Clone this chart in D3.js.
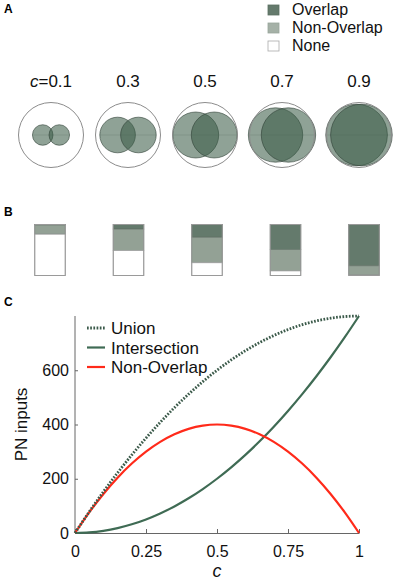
<!DOCTYPE html>
<html>
<head>
<meta charset="utf-8">
<script src="https://cdn.jsdelivr.net/npm/d3@7"></script>
<style>
  body { margin: 0; background: #fff; }
  svg { display: block; font-family: "Liberation Sans", Arial, sans-serif; }
</style>
</head>
<body>
<div id="chart"></div>
<script>
'use strict';

// panel A / B : correlation levels
const c_levels = [0.1, 0.3, 0.5, 0.7, 0.9]
const overlap_frac = [0.01, 0.09, 0.25, 0.49, 0.81]
const nonoverlap_frac = [0.18, 0.42, 0.50, 0.42, 0.18]
const legend_names = ['Overlap', 'Non-Overlap', 'None']

// panel C : PN inputs vs c
const c_values = [0, 0.05, 0.1, 0.15, 0.2, 0.25, 0.3, 0.35, 0.4, 0.45, 0.5,
  0.55, 0.6, 0.65, 0.7, 0.75, 0.8, 0.85, 0.9, 0.95, 1]
const union_vals = [0, 78, 152, 222, 288, 350, 408, 462, 512, 558, 600,
  638, 672, 702, 728, 750, 768, 782, 792, 798, 800]
const intersection_vals = [0, 2, 8, 18, 32, 50, 72, 98, 128, 162, 200,
  242, 288, 338, 392, 450, 512, 578, 648, 722, 800]
const nonoverlap_vals = [0, 76, 144, 204, 256, 300, 336, 364, 384, 396, 400,
  396, 384, 364, 336, 300, 256, 204, 144, 76, 0]
const x_ticks = [0, 0.25, 0.5, 0.75, 1]
const y_ticks = [0, 200, 400, 600]

const col_overlap = '#647a6c'
const col_nonover = '#93a195'
const col_legend_nonover = '#a5b1a7'
const col_inter = '#3f6b54'
const col_union = '#3b5a4a'
const col_red = '#ff2a1a'

const W = 397, H = 582
const svg = d3.select('#chart').append('svg')
  .attr('width', W).attr('height', H)

// panel letters
const letters = [['A', 13], ['B', 216], ['C', 306]]
svg.selectAll('.letter').data(letters).join('text')
  .attr('class', 'letter')
  .attr('x', 4).attr('y', d => d[1])
  .style('font-weight', 'bold').style('font-size', '12px')
  .text(d => d[0])

// top legend
const legend_fills = [col_overlap, col_legend_nonover, '#fff']
const legend_strokes = ['#5b6f62', '#98a59b', '#aaa']
const leg = svg.append('g').selectAll('g').data(legend_names).join('g')
  .attr('transform', (d, i) => `translate(268,${5 + i * 18})`)
leg.append('rect')
  .attr('width', 11).attr('height', 10)
  .attr('fill', (d, i) => legend_fills[i])
  .attr('stroke', (d, i) => legend_strokes[i])
  .attr('stroke-width', 0.8)
leg.append('text')
  .attr('x', 24).attr('y', 10)
  .style('font-size', '16px').style('fill', '#111')
  .text(d => d)

// ---------- panel A : circles ----------
const R = 32.5
const xCirc = d3.scalePoint().domain(c_levels).range([51, 359])
const cy = 135

// separation of two equal circles whose lens covers fraction c of each circle
function separation(c, r) {
  const f = x => (2 * Math.acos(x) - 2 * x * Math.sqrt(1 - x * x)) / Math.PI
  let lo = 0, hi = 1
  for (let k = 0; k < 60; k++) {
    const mid = (lo + hi) / 2
    if (f(mid) > c) lo = mid; else hi = mid
  }
  return 2 * r * (lo + hi) / 2
}

const labels = svg.append('g')
labels.selectAll('text').data(c_levels).join('text')
  .attr('x', d => xCirc(d)).attr('y', 87)
  .attr('text-anchor', 'middle')
  .style('font-size', '17px').style('fill', '#111')
  .each(function(d, i) {
    const t = d3.select(this)
    if (i === 0) {
      t.append('tspan').style('font-style', 'italic').text('c')
      t.append('tspan').text('=' + d)
    } else {
      t.text(d)
    }
  })

const groups = svg.append('g').selectAll('g').data(c_levels).join('g')
  .attr('transform', d => `translate(${xCirc(d)},${cy})`)

groups.each(function(c) {
  const g = d3.select(this)
  const r = R * Math.sqrt(c)
  const d = separation(c, r)
  g.selectAll('.odor').data([-d / 2, d / 2]).join('circle')
    .attr('class', 'odor')
    .attr('cx', v => v).attr('cy', 0).attr('r', r)
    .attr('fill', 'rgb(56,90,67)').attr('fill-opacity', 0.56)
    .attr('stroke', '#2f3f35').attr('stroke-width', 0.6)
  g.append('line')
    .attr('x1', -d / 2 - r).attr('x2', d / 2 + r)
    .attr('stroke', 'rgba(60,80,65,0.25)').attr('stroke-width', 0.6)
  g.append('circle')
    .attr('r', R).attr('fill', 'none')
    .attr('stroke', '#8c8c8c').attr('stroke-width', 1)
})

// ---------- panel B : stacked bars ----------
const xBar = d3.scalePoint().domain(c_levels).range([50, 364])
const yBar = d3.scaleLinear().domain([0, 1]).range([224.5, 275.5])
const barW = 30.5

const bar_data = c_levels.map((c, i) => {
  const o = overlap_frac[i], n = nonoverlap_frac[i]
  return [
    { c: c, y0: 0, y1: o, fill: col_overlap, stroke: '#4e5f55' },
    { c: c, y0: o, y1: o + n, fill: col_nonover, stroke: '#6f7d73' },
    { c: c, y0: o + n, y1: 1, fill: '#fff', stroke: '#a0a0a0' }
  ]
})

const bars = svg.append('g').selectAll('g').data(bar_data).join('g')
bars.selectAll('rect').data(d => d.filter(s => s.y1 - s.y0 > 0.001)).join('rect')
  .attr('x', d => xBar(d.c) - barW / 2)
  .attr('width', barW)
  .attr('y', d => yBar(d.y0))
  .attr('height', d => yBar(d.y1) - yBar(d.y0))
  .attr('fill', d => d.fill)
  .attr('stroke', d => d.stroke).attr('stroke-width', 0.8)
bars.append('rect')
  .attr('x', d => xBar(d[0].c) - barW / 2).attr('width', barW)
  .attr('y', yBar(0)).attr('height', yBar(1) - yBar(0))
  .attr('fill', 'none').attr('stroke', '#9a9a9a').attr('stroke-width', 1)

// ---------- panel C : line chart ----------
const xScale = d3.scaleLinear().domain([0, 1]).range([75, 359])
const yScale = d3.scaleLinear().domain([0, 800]).range([533, 316])

const xAxis = d3.axisBottom(xScale).tickValues(x_ticks)
  .tickFormat(d => String(d))
  .tickSizeInner(-4).tickSizeOuter(0).tickPadding(10)
const yAxis = d3.axisLeft(yScale).tickValues(y_ticks)
  .tickSizeInner(-3).tickSizeOuter(0).tickPadding(6)

const xg = svg.append('g').attr('transform', `translate(0,${yScale(0)})`).call(xAxis)
const yg = svg.append('g').attr('transform', `translate(${xScale(0)},0)`).call(yAxis)
yg.select('.domain').attr('d', `M0,${yScale(0)}V${yScale(800)}`)
;[xg, yg].forEach(g => {
  g.select('.domain').attr('stroke', '#666').attr('stroke-width', 1)
  g.selectAll('.tick line').attr('stroke', '#666')
  g.selectAll('.tick text').style('font-size', '16px')
    .style('font-family', '"Liberation Sans", Arial, sans-serif').attr('fill', '#111')
})
xg.selectAll('.tick text').attr('dy', '0.9em')

svg.append('text')
  .attr('transform', `translate(27,${yScale(400)}) rotate(-90)`)
  .attr('text-anchor', 'middle')
  .style('font-size', '17px').style('fill', '#111')
  .text('PN inputs')
svg.append('text')
  .attr('x', xScale(0.5)).attr('y', 577)
  .attr('text-anchor', 'middle')
  .style('font-size', '18px').style('font-style', 'italic').style('fill', '#111')
  .text('c')

const line = d3.line()
  .x(d => xScale(d[0])).y(d => yScale(d[1]))
  .curve(d3.curveMonotoneX)

const series = [
  { name: 'Union', vals: union_vals, color: col_union, dash: '1.7 1.5', width: 2.8 },
  { name: 'Intersection', vals: intersection_vals, color: col_inter, dash: null, width: 2.2 },
  { name: 'Non-Overlap', vals: nonoverlap_vals, color: col_red, dash: null, width: 2.2 }
]

const plot = svg.append('g')
// draw intersection, then red, then dotted union on top
;[series[1], series[2], series[0]].forEach(s => {
  plot.append('path')
    .datum(c_values.map((c, i) => [c, s.vals[i]]))
    .attr('d', line)
    .attr('fill', 'none')
    .attr('stroke', s.color)
    .attr('stroke-width', s.width)
    .attr('stroke-dasharray', s.dash)
})

const leg2 = svg.append('g').selectAll('g').data(series).join('g')
  .attr('transform', (d, i) => `translate(0,${328 + i * 19.5})`)
leg2.append('line')
  .attr('x1', 87).attr('x2', 105)
  .attr('stroke', d => d.color).attr('stroke-width', d => d.width)
  .attr('stroke-dasharray', d => d.dash)
leg2.append('text')
  .attr('x', 111).attr('y', 6)
  .style('font-size', '17px').style('fill', '#111')
  .text(d => d.name)
</script>
</body>
</html>
